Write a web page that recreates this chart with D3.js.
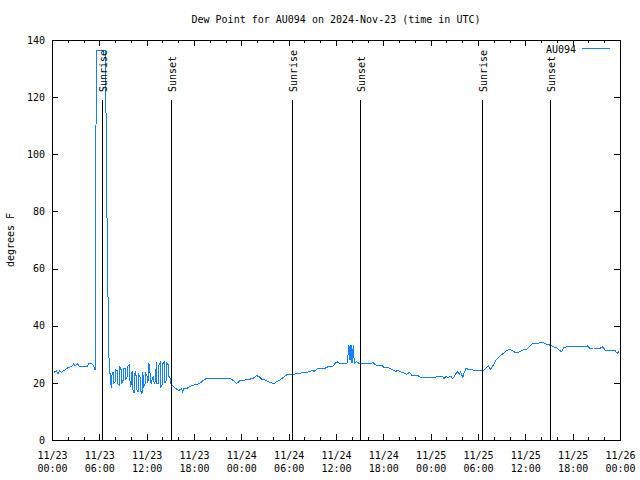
<!DOCTYPE html>
<html><head><meta charset="utf-8">
<script src="https://cdn.jsdelivr.net/npm/d3@7"></script>
<style>
body{margin:0;background:#fff;}
text{font-family:"DejaVu Sans Mono","Liberation Mono",monospace;font-size:10px;fill:#000;}
</style></head>
<body><svg id="c" width="640" height="480"></svg>
<script>
// ---- data ----
const chartTitle = "Dew Point for AU094 on 2024-Nov-23 (time in UTC)";
const yAxisLabel = "degrees F";
const seriesName = "AU094";
const startTime = "2024-11-23T00:00:00Z";
const endTime = "2024-11-26T00:00:00Z";
const yTickValues = [0, 20, 40, 60, 80, 100, 120, 140];
const sunriseHours = [6.31, 30.40, 54.48];
const sunsetHours = [15.06, 39.02, 63.10];
const sunMarkerTop = 119;
// [hours since start, dew point °F]
const dewPointReadings = [
[0.19,23.7],[0.48,24.2],[0.70,23.3],[0.91,24.2],[1.12,23.7],[1.55,24.5],[1.96,25.3],[2.38,25.7],[2.69,26.6],[2.89,26.0],
[3.14,26.8],[3.36,25.9],[4.08,25.9],[4.41,25.9],[4.59,26.8],[4.92,26.8],[5.22,25.9],[5.39,24.5],
[5.43,64],[5.51,109],[5.64,136.5],[6.02,136.5],[6.40,136.5],[6.69,136.5],[6.76,121],[6.85,94.5],[6.95,66.5],[7.10,38.5],[7.20,23.3],
[7.33,23.3],[7.36,19.8],[7.50,18.1],[7.53,22.7],[7.71,23.9],[7.74,19.8],[7.96,20.4],[7.99,24.5],[8.21,24.2],[8.24,19.8],
[8.47,19.3],[8.50,25.7],[8.72,24.5],[8.75,19.8],[8.97,21.0],[9.00,25.1],[9.23,25.1],[9.26,21.0],[9.48,22.2],[9.51,25.7],
[9.74,26.3],[9.77,21.6],[9.95,18.7],[9.98,23.3],[10.17,23.9],[10.20,17.5],[10.37,16.3],[10.40,23.3],[10.58,23.9],[10.61,18.1],
[10.84,16.9],[10.87,23.3],[11.09,22.2],[11.12,17.5],[11.35,16.3],[11.38,23.9],[11.51,22.2],[11.54,18.7],[11.76,19.8],[11.79,23.3],
[12.02,22.2],[12.05,20.4],[12.19,21.0],[12.22,27.0],[12.36,23.3],[12.39,20.4],[12.57,19.8],[12.60,21.0],[12.78,22.2],[12.81,20.4],
[12.99,19.8],[13.02,22.2],[13.21,27.4],[13.24,19.8],[13.46,19.8],[13.49,26.3],[13.72,27.4],[13.75,18.7],[13.97,19.8],[14.00,26.8],
[14.22,27.4],[14.25,19.8],[14.48,21.0],[14.51,26.8],[14.73,26.3],[14.76,22.2],[14.89,22.2],[14.92,19.8],
[15.11,19.3],[15.53,18.1],[15.95,17.5],[16.12,17.5],[16.38,18.1],[16.48,16.9],[16.67,18.1],[17.01,18.0],[17.39,18.7],[18.03,19.3],
[18.66,19.8],[19.08,20.8],[19.55,21.6],[19.96,21.4],[20.38,21.6],[20.81,21.4],[22.08,21.4],[22.50,21.6],[22.92,20.8],[23.35,19.8],
[23.77,20.8],[24.40,21.0],[25.04,21.3],[25.45,21.6],[25.88,22.5],[26.21,22.2],[26.52,21.3],[26.94,21.0],[27.36,20.4],[27.79,20.0],
[28.08,19.8],[28.42,20.4],[28.84,21.0],[29.26,21.9],[29.56,22.5],[29.76,23.1],[30.74,23.1],[31.37,23.3],[31.79,23.7],[32.22,23.6],
[32.64,24.0],[32.93,24.5],[33.15,24.0],[33.49,24.8],[33.91,25.1],[34.54,25.1],[34.96,25.7],[35.60,25.9],[35.81,26.8],[36.10,27.4],
[36.36,26.8],[36.79,26.8],[37.08,26.6],[37.37,27.0],[37.58,33.2],[37.71,28.0],[37.84,33.2],[37.97,26.8],[38.13,33.2],[38.26,26.8],
[38.56,27.4],[38.89,26.8],[39.40,26.6],[39.83,26.8],[40.67,27.0],[41.01,26.2],[41.51,25.9],[41.73,26.25],[42.02,25.4],[42.36,25.4],
[42.78,25.1],[43.20,24.5],[43.50,23.9],[43.71,24.5],[44.05,23.9],[44.47,23.6],[44.90,23.0],[45.23,23.7],[45.53,22.75],[46.17,22.75],
[46.50,22.2],[46.80,21.8],[47.43,21.8],[48.27,21.9],[48.90,22.2],[49.46,22.2],[49.63,21.4],[49.84,22.2],[50.17,21.9],[50.48,22.4],
[50.73,21.4],[51.02,22.75],[51.31,23.9],[51.57,23.0],[51.74,23.9],[52.00,21.9],[52.16,23.3],[52.42,25.1],[52.71,24.7],[53.34,24.5],
[54.19,24.5],[54.61,24.3],[54.95,25.1],[55.24,25.9],[55.55,24.7],[55.88,26.25],[56.22,28.0],[56.64,29.2],[57.15,30.3],[57.58,31.3],
[57.99,31.7],[58.34,31.3],[58.63,30.6],[59.05,30.7],[59.48,31.2],[59.77,31.7],[60.11,31.7],[60.44,32.7],[60.87,33.8],[61.38,33.6],
[61.80,34.1],[62.22,34.1],[62.56,33.6],[63.06,33.2],[63.48,32.7],[63.91,32.2],[64.33,31.3],[64.55,30.9],[64.75,32.2],[65.18,32.7],
[65.82,32.9],[66.87,32.9],[67.50,32.7],[67.79,32.9],[68.05,32.2],[68.55,32.2],[69.40,32.1],[69.75,32.6],[70.04,31.5],[70.67,31.3],
[71.30,31.3],[71.59,30.3],[71.85,31.3]
];

// ---- layout ----
const L = 52, R = 620, T = 40, B = 440;
const lineColor = "#1080ff";
const svg = d3.select("#c");
const t0 = new Date(startTime), t1 = new Date(endTime);
const hourToDate = h => new Date(t0.getTime() + h * 3600000);

const x = d3.scaleUtc().domain([t0, t1]).range([L, R]);
const y = d3.scaleLinear().domain([0, 140]).range([B, T]);

// data line
const line = d3.line().x(d => x(hourToDate(d[0])) + 0.5).y(d => y(d[1]));
svg.append("path").datum(dewPointReadings)
  .attr("d", line).attr("fill", "none").attr("stroke", lineColor)
  .attr("stroke-width", 1).attr("shape-rendering", "crispEdges");

// sunrise / sunset markers
const sunEvents = sunriseHours.map(h => ({h, label: "Sunrise"}))
  .concat(sunsetHours.map(h => ({h, label: "Sunset"})));
sunEvents.forEach(ev => {
  const px = Math.round(x(hourToDate(ev.h))) + 0.5;
  svg.append("line").attr("x1", px).attr("x2", px)
    .attr("y1", y(sunMarkerTop)).attr("y2", y(0))
    .attr("stroke", "#000").attr("stroke-width", 1).attr("shape-rendering", "crispEdges");
  svg.append("text").attr("transform", `translate(${px + 4},92) rotate(-90)`)
    .attr("text-anchor", "start").text(ev.label);
});

// axes
function clean(g){ g.select(".domain").remove(); g.selectAll("line").attr("stroke","#000").attr("shape-rendering","crispEdges"); }
svg.append("g").attr("transform", `translate(0,${B})`)
  .call(d3.axisBottom(x).ticks(d3.utcHour.every(2)).tickSize(-3).tickFormat("")).call(clean);
svg.append("g").attr("transform", `translate(0,${B})`)
  .call(d3.axisBottom(x).ticks(d3.utcHour.every(6)).tickSize(-6).tickFormat("")).call(clean);
svg.append("g").attr("transform", `translate(0,${T})`)
  .call(d3.axisTop(x).ticks(d3.utcHour.every(2)).tickSize(-3).tickFormat("")).call(clean);
svg.append("g").attr("transform", `translate(0,${T})`)
  .call(d3.axisTop(x).ticks(d3.utcHour.every(6)).tickSize(-6).tickFormat("")).call(clean);
svg.append("g").attr("transform", `translate(${L},0)`)
  .call(d3.axisLeft(y).tickValues(yTickValues).tickSize(-6).tickPadding(7)).call(clean)
  .call(g => g.selectAll("text").attr("font-family", null).attr("font-size", null).attr("fill", "#000"));
svg.append("g").attr("transform", `translate(${R},0)`)
  .call(d3.axisRight(y).tickValues(yTickValues).tickSize(-6).tickFormat("")).call(clean);

// x tick labels (two lines)
const fmtDate = d3.utcFormat("%m/%d"), fmtTime = d3.utcFormat("%H:%M");
const xt = x.ticks(d3.utcHour.every(6));
const xl = svg.append("g").attr("text-anchor", "middle");
xt.forEach(d => {
  const t = xl.append("text").attr("x", x(d) + 0.5);
  t.append("tspan").attr("x", x(d) + 0.5).attr("y", 459).text(fmtDate(d));
  t.append("tspan").attr("x", x(d) + 0.5).attr("y", 472).text(fmtTime(d));
});

// border
svg.append("rect").attr("x", L + 0.5).attr("y", T + 0.5).attr("width", R - L).attr("height", B - T)
  .attr("fill", "none").attr("stroke", "#000").attr("shape-rendering", "crispEdges");

// title, y label
svg.append("text").attr("x", (L + R) / 2).attr("y", 23).attr("text-anchor", "middle").text(chartTitle);
svg.append("text").attr("transform", "translate(14,240) rotate(-90)").attr("text-anchor", "middle").text(yAxisLabel);

// legend
svg.append("text").attr("x", 576).attr("y", 53).attr("text-anchor", "end").text(seriesName);
svg.append("line").attr("x1", 582).attr("x2", 610).attr("y1", 48.5).attr("y2", 48.5)
  .attr("stroke", lineColor).attr("stroke-width", 1);
</script></body></html>
